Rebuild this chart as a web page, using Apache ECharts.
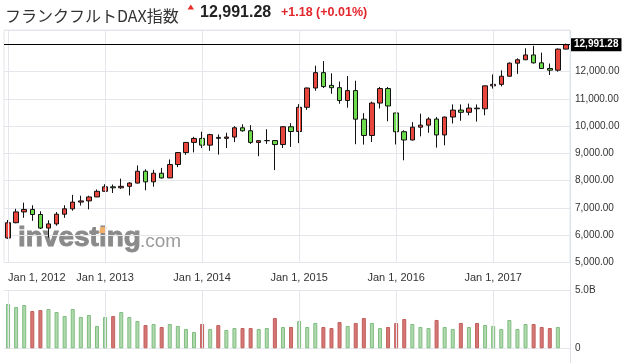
<!DOCTYPE html>
<html>
<head>
<meta charset="utf-8">
<script src="https://cdn.jsdelivr.net/npm/echarts@6/dist/echarts.min.js"></script>
<style>
html,body{margin:0;padding:0;background:#fff;}
#chart{width:625px;height:363px;}
</style>
</head>
<body>
<div id="chart"></div>
<script>
// ---- data ----
const categories = [
 '2012-01','2012-02','2012-03','2012-04','2012-05','2012-06','2012-07','2012-08','2012-09','2012-10','2012-11','2012-12',
 '2013-01','2013-02','2013-03','2013-04','2013-05','2013-06','2013-07','2013-08','2013-09','2013-10','2013-11','2013-12',
 '2014-01','2014-02','2014-03','2014-04','2014-05','2014-06','2014-07','2014-08','2014-09','2014-10','2014-11','2014-12',
 '2015-01','2015-02','2015-03','2015-04','2015-05','2015-06','2015-07','2015-08','2015-09','2015-10','2015-11','2015-12',
 '2016-01','2016-02','2016-03','2016-04','2016-05','2016-06','2016-07','2016-08','2016-09','2016-10','2016-11','2016-12',
 '2017-01','2017-02','2017-03','2017-04','2017-05','2017-06','2017-07','2017-08','2017-09','2017-10'
];
const openPrices = [
 5900,6460,6856,6947,6761,6264,6416,6772,6970,7216,7260,7405,
 7612,7776,7741,7795,7914,8348,7959,8276,8103,8594,9033,9406,
 9552,9306,9590,9556,9603,9943,9833,9407,9470,9474,9327,9980,
 9806,10694,11402,11966,11500,11414,10945,11308,10259,9660,10850,11382,
 10486,9798,9495,9965,10039,10263,9680,10337,10592,10511,10665,10640,
 11481,11535,11834,12313,12438,12615,12325,12118,12056,12829
];
const closePrices = [
 6458,6856,6947,6761,6264,6416,6772,6970,7216,7260,7405,7612,
 7776,7741,7795,7914,8348,7959,8276,8103,8594,9033,9406,9552,
 9306,9692,9556,9603,9943,9833,9407,9470,9474,9327,9980,9806,
 10694,11402,11966,11454,11414,10945,11308,10259,9660,10850,11382,10743,
 9798,9495,9965,10039,10263,9680,10337,10592,10511,10665,10640,11481,
 11535,11834,12313,12438,12615,12325,12118,12056,12829,12991.28
];
const lowPrices = [
 5870,6440,6640,6530,6230,5915,6350,6640,6900,7090,6950,7400,
 7600,7550,7700,7460,7900,7650,7780,8080,8100,8500,8950,9040,
 9200,9100,8960,9200,9420,9800,9350,8900,9350,8390,9200,9240,
 9380,10600,11300,11400,11190,10825,10680,9340,9325,9420,10650,10180,
 9330,8750,9480,9630,9760,9214,9300,10100,10200,10400,10170,10400,
 11380,11460,11830,11920,12440,12300,12100,11880,12000,12820
];
const highPrices = [
 6560,6970,7194,7100,6880,6550,6850,7100,7480,7450,7450,7680,
 7870,7860,8075,7950,8560,8420,8400,8470,8780,9050,9420,9610,
 9800,9720,9700,9760,10000,10070,10040,9480,9890,9490,10000,10110,
 10810,11420,12219,12390,11940,11640,11840,11670,10480,10900,11440,11440,
 10486,9850,10150,10460,10330,10340,10350,10800,10800,10830,10800,11480,
 11900,12050,12340,12490,12860,12951,12700,12300,12850,13030
];
const volumeB = [
 3.85,3.58,3.76,3.24,3.32,3.41,3.15,2.80,3.41,2.72,2.89,1.94,
 2.72,2.80,3.15,2.72,2.37,2.02,2.11,1.85,2.11,1.94,1.68,1.42,
 2.11,1.68,2.02,1.59,1.76,1.76,1.76,1.68,1.76,2.63,1.85,1.85,
 2.37,1.85,2.20,1.85,1.76,2.28,1.94,2.20,2.63,2.20,1.76,1.85,
 2.20,2.54,2.11,1.85,1.76,2.46,1.85,1.68,2.20,1.85,2.20,2.02,
 1.94,1.68,2.46,1.68,2.11,2.11,1.85,1.76,1.85,0
];
const priceTicks = [5000,6000,7000,8000,9000,10000,11000,12000];
const volumeTicks = [0,5];
const volumeTickLabels = ['0','5.0B'];
const lastPrice = 12991.28;
const lastPriceLabel = '12,991.28';
const titleText = 'フランクフルトDAX指数';
const changeText = '+1.18 (+0.01%)';

// ---- build ----
const ohlc = categories.map((c,i)=>[openPrices[i],closePrices[i],lowPrices[i],highPrices[i]]);
const volData = volumeB.map((v,i)=>{
  const up = closePrices[i] >= openPrices[i];
  if (!v) return {value:null};
  return {value:v, itemStyle:{color: up?'#b0d9b0':'#d47775', borderColor: up?'#7fbd7f':'#c25f5c'}};
});
const janCats = categories.filter(c=>c.endsWith('-01'));
const gridColor = '#e4e6eb';
const fmtPrice = v => v.toLocaleString('en-US',{minimumFractionDigits:2, maximumFractionDigits:2});

const chart = echarts.init(document.getElementById('chart'), null, {renderer:'canvas'});
const vLines = janCats.map(c=>({xAxis:c}));
const option = {
  animation:false,
  grid:[
    {left:4, top:30, width:566, height:232.5, show:true, borderColor:gridColor, borderWidth:1},
    {left:4, top:290.7, width:566, height:57.6}
  ],
  xAxis:[
    {type:'category', data:categories, gridIndex:0,
     axisLine:{show:false}, axisTick:{show:false}, splitLine:{show:false},
     axisLabel:{interval:(i,v)=>v.endsWith('-01'), formatter:v=>'Jan 1, '+v.slice(0,4),
       color:'#333', fontSize:11, fontFamily:'Liberation Sans, Arial, sans-serif', margin:10, alignMinLabel:'left'}},
    {type:'category', data:categories, gridIndex:1,
     axisLine:{show:false}, axisTick:{show:false}, splitLine:{show:false}, axisLabel:{show:false}}
  ],
  yAxis:[
    {type:'value', gridIndex:0, position:'right', min:5000, max:13530, interval:1000,
     axisLine:{show:false}, axisTick:{show:false},
     splitLine:{lineStyle:{color:gridColor, width:1}},
     axisLabel:{formatter:v=>priceTicks.includes(v)?fmtPrice(v):'', color:'#333', fontSize:10,
       fontFamily:'Liberation Sans, Arial, sans-serif', margin:5}},
    {type:'value', gridIndex:1, position:'right', min:0, max:5, interval:5,
     axisLine:{show:false}, axisTick:{show:false},
     splitLine:{lineStyle:{color:gridColor, width:1}},
     axisLabel:{formatter:v=>{const k=volumeTicks.indexOf(v); return k>=0?volumeTickLabels[k]:'';},
       color:'#333', fontSize:10, fontFamily:'Liberation Sans, Arial, sans-serif', margin:5}}
  ],
  series:[
    {type:'line', xAxisIndex:0, yAxisIndex:0, data:[], z:1, silent:true,
     markLine:{symbol:['none','none'], silent:true, animation:false, label:{show:false},
       lineStyle:{color:gridColor, type:'solid', width:1}, emphasis:{disabled:true}, data:vLines}},
    {type:'line', xAxisIndex:1, yAxisIndex:1, data:[], z:1, silent:true,
     markLine:{symbol:['none','none'], silent:true, animation:false, label:{show:false},
       lineStyle:{color:gridColor, type:'solid', width:1}, emphasis:{disabled:true}, data:vLines}},
    {type:'candlestick', xAxisIndex:0, yAxisIndex:0, data:ohlc, barWidth:5, z:3,
     itemStyle:{color:'#e8453c', color0:'#6cdc4c', borderColor:'#111', borderColor0:'#111', borderColorDoji:'#111', borderWidth:1},
     markLine:{symbol:['none','none'], silent:true, animation:false,
       lineStyle:{color:'#000', type:'solid', width:1}, emphasis:{disabled:true},
       label:{show:true, position:'end', distance:1, formatter:lastPriceLabel, color:'#fff', backgroundColor:'#000',
         fontWeight:'bold', fontSize:10, fontFamily:'Liberation Sans, Arial, sans-serif', padding:[2,3,1,3]},
       data:[{yAxis:lastPrice}]}},
    {type:'bar', xAxisIndex:1, yAxisIndex:1, data:volData, barWidth:4, z:2,
     itemStyle:{borderWidth:1}}
  ],
  graphic:[
    {type:'line', z:0, shape:{x1:570.5, y1:30, x2:570.5, y2:363}, style:{stroke:'#dce0e7', lineWidth:1}},
    {type:'text', x:18, y:238.6, z:0, style:{text:'investing', fill:'#8a8a8a', stroke:'#8a8a8a', lineWidth:0.9, font:'bold 28px "Liberation Sans", Arial, sans-serif', textVerticalAlign:'middle'}},
    {type:'polygon', z:0, shape:{points:[[99,233],[100.5,227],[106.5,227],[105.5,233]]}, style:{fill:'#f3b06a'}},
    {type:'text', x:140, y:241.7, z:0, style:{text:'.com', fill:'#9c9c9c', font:'19px "Liberation Sans", Arial, sans-serif', textVerticalAlign:'middle'}},
    {type:'text', x:5, y:16, style:{text:titleText, fill:'#333', font:'16px "Noto Sans CJK JP", sans-serif', textVerticalAlign:'middle'}},
    {type:'polygon', shape:{points:[[187.5,9.5],[190.8,4.5],[194,9.5]]}, style:{fill:'#e8302a'}},
    {type:'text', x:200, y:13, style:{text:lastPriceLabel, fill:'#222', font:'bold 16px "Liberation Sans", Arial, sans-serif', textVerticalAlign:'middle'}},
    {type:'text', x:281, y:13, style:{text:changeText, fill:'#e3262c', font:'bold 12.5px "Liberation Sans", Arial, sans-serif', textVerticalAlign:'middle'}}
  ]
};
chart.setOption(option);
</script>
</body>
</html>
